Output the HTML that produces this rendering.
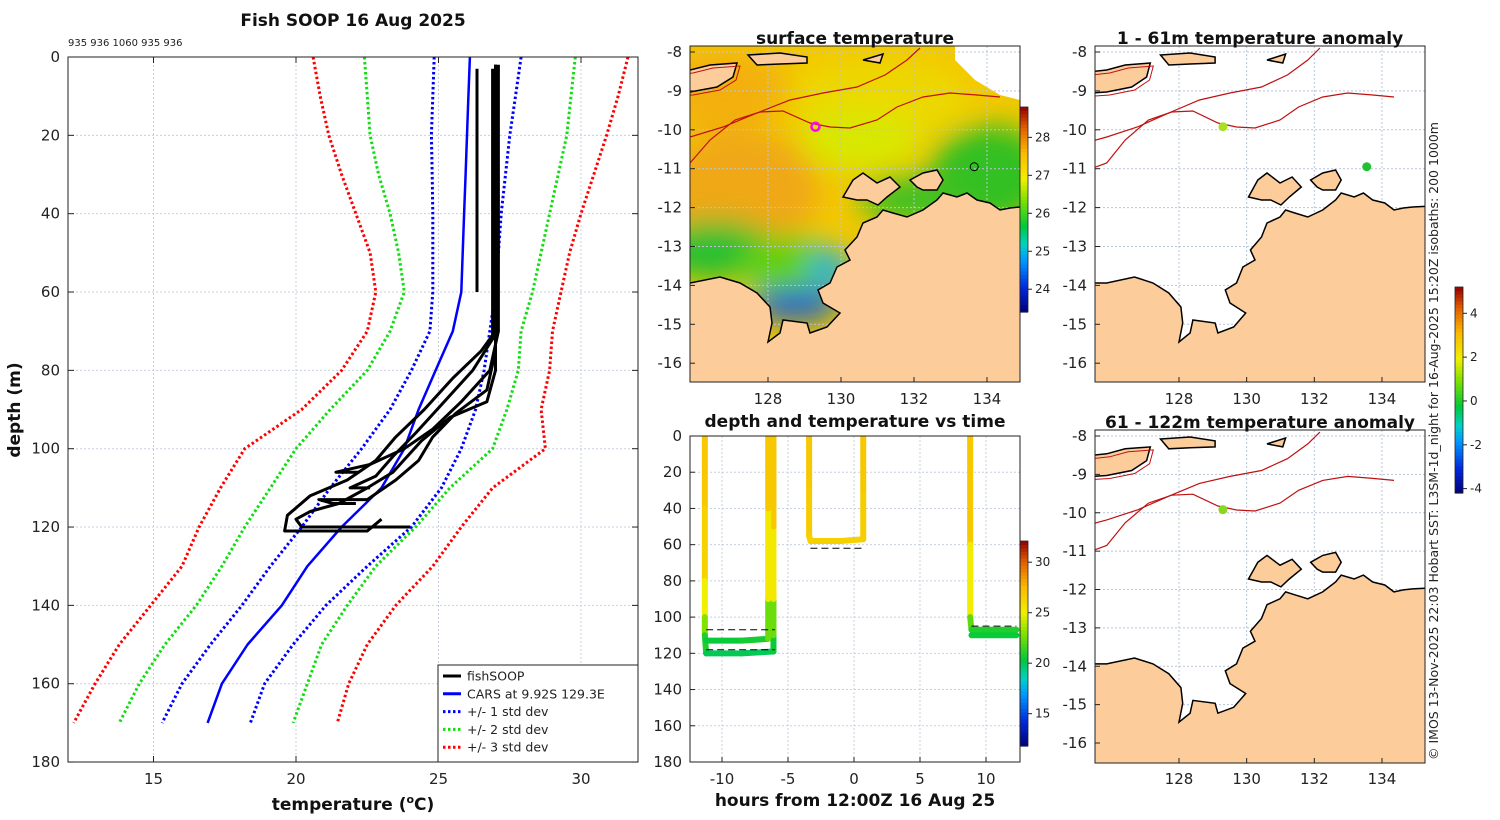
<!DOCTYPE html>
<html><head><meta charset="utf-8"><style>
html,body{margin:0;padding:0;background:#fff;width:1500px;height:820px;overflow:hidden}
svg{display:block;overflow:hidden;width:1500px;height:820px;font-family:"DejaVu Sans","Liberation Sans",sans-serif}
.tk{font-size:15px;fill:#222}
.tt{font-size:17px;font-weight:bold;fill:#111}
</style></head><body>
<svg id="fig" width="1500" height="820" viewBox="0 0 1500 820" xmlns="http://www.w3.org/2000/svg">
<defs>
<filter id="blur" x="-50%" y="-50%" width="200%" height="200%"><feGaussianBlur stdDeviation="14"/></filter>
<clipPath id="cpA"><rect x="68" y="57" width="570" height="705"/></clipPath>
<clipPath id="cpM"><rect x="690" y="46" width="330" height="336"/></clipPath>
<clipPath id="cpR1"><rect x="1095" y="46" width="330" height="336"/></clipPath>
<clipPath id="cpR2"><rect x="1095" y="430" width="330" height="333"/></clipPath>
<clipPath id="cpT"><rect x="690" y="436" width="330" height="326"/></clipPath>
</defs>
</svg>
<script>
// ---------- profile chart data ----------
const depthLevels=[0,10,20,30,40,50,60,70,80,90,100,110,120,130,140,150,160,170];
const carsMean=[26.1,26.05,26.0,25.95,25.9,25.85,25.8,25.5,24.9,24.3,23.8,23.0,21.6,20.4,19.5,18.3,17.4,16.9];
const lo1=[24.85,24.8,24.75,24.78,24.8,24.8,24.8,24.7,24.05,23.3,22.3,21.2,20.2,19.1,18.1,17.0,16.0,15.3];
const hi1=[27.9,27.7,27.5,27.35,27.2,27.1,27.0,26.8,26.6,26.3,25.8,25.1,24.05,22.5,21.05,19.9,18.9,18.4];
const lo2=[22.4,22.5,22.6,22.9,23.3,23.6,23.8,23.3,22.5,21.2,20.0,19.1,18.2,17.4,16.5,15.4,14.5,13.8];
const hi2=[29.8,29.65,29.5,29.2,28.9,28.6,28.3,27.9,27.8,27.4,26.9,25.4,24.2,22.8,21.8,20.9,20.4,19.9];
const lo3=[20.6,20.85,21.15,21.6,22.1,22.6,22.8,22.5,21.6,20.2,18.2,17.35,16.6,16.0,14.9,13.8,12.95,12.2];
const hi3=[31.65,31.3,30.9,30.45,30.0,29.6,29.3,29.0,28.9,28.6,28.75,26.9,25.8,24.8,23.5,22.5,21.85,21.45];
const profA_T=[26.35,26.35,26.35], profA_D=[3,30,60];
const profB_T=[27.0,27.0,26.5,25.5,24.5,23.5,22.8,21.8,20.5,19.7,19.6,22.5,23.0], profB_D=[2,70,75,82,90,97,103,108,112,117,121,121,118];
const profC_T=[27.1,27.1,26.8,25.8,24.8,23.8,22.6,21.4,22.2], profC_D=[2,70,80,88,95,100,104,106,106];
const profD_T=[26.9,26.9,26.2,25.2,24.2,23.4,22.8,21.9,22.6], profD_D=[3,72,80,88,96,102,107,110,110];
const profE_T=[27.0,27.0,26.7,25.6,24.8,24.3,23.5,22.5,20.8,21.3,22.1], profE_D=[2,75,85,91,97,103,108,113,113,114,114];
const profF_T=[27.0,27.0,26.7,25.4,24.4,23.4,22.5,21.5,20.5,20.0,20.2,21.0,24.0], profF_D=[2,80,88,92,98,106,110,114,116,118,120,120,120];
const xTicksA=[15,20,25,30], yTicksA=[0,20,40,60,80,100,120,140,160,180];
// ---------- time chart data ----------
const diveA_t=[-11.3,-11.3,-11.3,-11.3,-11.3,-11.2,-8.5,-6.1,-6.1,-6.1,-6.1,-6.1];
const diveA_d=[0,40,80,100,110,120,120,119,110,90,50,0];
const diveA_T=[27,26.9,26,24,22,20,20,20,21,24,26.8,27];
const diveB_t=[-11.2,-8.5,-6.5,-6.5,-6.5,-6.5];
const diveB_d=[113,113,112,90,40,0];
const diveB_T=[20.5,20.5,21,24,26.8,27];
const diveC_t=[-3.4,-3.4,-3.4,-3.3,-1,0.7,0.7,0.7];
const diveC_d=[0,30,55,58,58,57,30,0];
const diveC_T=[27,26.9,26.6,26.5,26.5,26.5,26.8,27];
const diveD_t=[8.8,8.8,8.8,8.9,10.5,12.3];
const diveD_d=[0,60,100,107,107,107];
const diveD_T=[27,26.8,23.5,21,21,21];
const diveE_t=[8.9,12.3], diveE_d=[110,110], diveE_T=[20.5,20.5];
const bottomLines=[[-11.2,-6.0,107],[-11.2,-6.0,118],[-3.3,0.7,62],[8.9,12.3,105]];
const xTicksT=[-10,-5,0,5,10], yTicksT=[0,20,40,60,80,100,120,140,160,180];

const NS='http://www.w3.org/2000/svg';
const svg=document.getElementById('fig');
function mk(tag,attrs,name,inter,parent){
  const e=document.createElementNS(NS,tag);
  for(const k in attrs) e.setAttribute(k,attrs[k]);
  
  
  (parent||svg).appendChild(e); return e;
}
function txt(x,y,s,cls,name,anchor,parent,extra){
  const t=mk('text',Object.assign({x:x,y:y,class:cls,'text-anchor':anchor||'middle'},extra||{}),name,false,parent);
  t.textContent=s; return t;
}
const stops=[[0,[0,0,120]],[0.12,[0,40,220]],[0.25,[0,150,255]],[0.33,[0,210,200]],[0.42,[0,200,60]],[0.55,[130,225,0]],[0.65,[240,240,0]],[0.78,[250,185,0]],[0.9,[225,95,0]],[1,[150,0,0]]];
function cmap(v){v=Math.max(0,Math.min(1,v));for(let i=1;i<stops.length;i++){if(v<=stops[i][0]){const a=stops[i-1],b=stops[i];const f=(v-a[0])/(b[0]-a[0]);const c=a[1].map((q,j)=>Math.round(q+(b[1][j]-q)*f));return `rgb(${c})`;}}return 'rgb(150,0,0)';}

// ================= PROFILE CHART =================
const xA=t=>68+(t-12)*28.5, yA=d=>57+d*3.917;
const gA=mk('g',{},'profile-chart',false);
mk('rect',{x:68,y:57,width:570,height:705,fill:'#fff'},'profile-plot-area',false,gA);
xTicksA.forEach(v=>mk('line',{x1:xA(v),x2:xA(v),y1:57,y2:762,stroke:'#c8cfe0','stroke-dasharray':'2,2','stroke-width':1},'x-gridline',false,gA));
yTicksA.forEach(v=>mk('line',{x1:68,x2:638,y1:yA(v),y2:yA(v),stroke:'#c8cfe0','stroke-dasharray':'2,2','stroke-width':1},'y-gridline',false,gA));
const gAc=mk('g',{'clip-path':'url(#cpA)'},'profile-series',false,gA);
function line(T,D,col,w,dash,name){
  const p=T.map((t,i)=>xA(t).toFixed(1)+','+yA(D[i]).toFixed(1)).join(' ');
  const a={points:p,fill:'none',stroke:col,'stroke-width':w,'stroke-linejoin':'round'};
  if(dash) a['stroke-dasharray']=dash;
  mk('polyline',a,name,false,gAc);
}
line(lo3,depthLevels,'#f00',3,'2.5,2.5','minus-3-std-line');
line(hi3,depthLevels,'#f00',3,'2.5,2.5','plus-3-std-line');
line(lo2,depthLevels,'#1d1',3,'2.5,2.5','minus-2-std-line');
line(hi2,depthLevels,'#1d1',3,'2.5,2.5','plus-2-std-line');
line(lo1,depthLevels,'#00f',3,'2.5,2.5','minus-1-std-line');
line(hi1,depthLevels,'#00f',3,'2.5,2.5','plus-1-std-line');
line(carsMean,depthLevels,'#00f',2.5,null,'cars-mean-line');
[[profA_T,profA_D],[profB_T,profB_D],[profC_T,profC_D],[profD_T,profD_D],[profE_T,profE_D],[profF_T,profF_D]].forEach(p=>line(p[0],p[1],'#000',3,null,'fishsoop-profile'));
mk('rect',{x:68,y:57,width:570,height:705,fill:'none',stroke:'#222','stroke-width':1},'profile-axes-box',false,gA);
xTicksA.forEach(v=>{mk('line',{x1:xA(v),x2:xA(v),y1:762,y2:756,stroke:'#222'},'x-tick',false,gA);mk('line',{x1:xA(v),x2:xA(v),y1:57,y2:63,stroke:'#222'},'x-tick',false,gA);txt(xA(v),784,String(v),'tk','x-tick-label','middle',gA);});
yTicksA.forEach(v=>{mk('line',{x1:68,x2:74,y1:yA(v),y2:yA(v),stroke:'#222'},'y-tick',false,gA);mk('line',{x1:632,x2:638,y1:yA(v),y2:yA(v),stroke:'#222'},'y-tick',false,gA);txt(60,yA(v)+5,String(v),'tk','y-tick-label','end',gA);});
txt(353,26,'Fish SOOP 16 Aug 2025','tt','profile-title','middle',gA);
txt(68,46,'935 936 1060 935 936','tk','profile-ids','start',gA,{style:'font-size:10px'});
const xl=txt(353,810,'temperature (','tt','x-axis-title','middle',gA);
xl.innerHTML='temperature (<tspan dy="-7" font-size="11">o</tspan><tspan dy="7">C)</tspan>';
txt(20,410,'depth (m)','tt','y-axis-title','middle',gA,{transform:'rotate(-90 20 410)'});
// legend
const gL=mk('g',{},'legend',false,gA);
mk('rect',{x:438,y:665,width:200,height:97,fill:'#fff',stroke:'#222','stroke-width':1},'legend-box',false,gL);
[['fishSOOP','#000',null],['CARS at 9.92S 129.3E','#00f',null],['+/- 1 std dev','#00f','2.5,2.5'],['+/- 2 std dev','#1d1','2.5,2.5'],['+/- 3 std dev','#f00','2.5,2.5']].forEach((e,i)=>{
  const y=676+i*17.8;
  const a={x1:443,x2:461,y1:y,y2:y,stroke:e[1],'stroke-width':3};if(e[2])a['stroke-dasharray']=e[2];
  mk('line',a,'legend-swatch',false,gL);
  txt(467,y+4.5,e[0],'tk','legend-entry','start',gL,{style:'font-size:12.5px'});
});

// ================= MAPS =================
const coastMain=[[640,283],[690,283],[720,277],[740,283],[757,293],[770,307],[772,323],[768,342],[780,333],[783,320],[807,323],[810,333],[827,327],[840,313],[823,303],[818,290],[830,283],[837,267],[850,260],[845,250],[857,237],[863,223],[877,217],[883,210],[893,213],[907,217],[923,210],[937,200],[943,193],[957,197],[967,193],[977,200],[990,203],[1000,210],[1010,208],[1020,207],[1060,205],[1060,390],[640,390]];
const coastMelville=[[843,197],[853,180],[863,173],[877,183],[890,177],[900,187],[887,197],[878,205],[867,200],[857,200]];
const coastCobourg=[[910,180],[923,173],[937,170],[943,180],[937,190],[923,190],[917,187]];
const coastTimor=[[640,75],[690,70],[710,65],[737,63],[733,77],[717,87],[690,92],[640,95]];
const coastIs1=[[748,55],[780,53],[807,57],[807,63],[780,64],[757,65]];
const coastIs2=[[863,60],[883,54],[880,63]];
const iso200=[[640,150],[690,137],[723,127],[757,113],[790,100],[823,93],[857,87],[885,75],[907,60],[920,48]];
const iso1000=[[640,180],[690,163],[710,140],[735,120],[760,112],[783,111],[810,123],[830,127],[850,128],[877,120],[897,107],[923,97],[950,93],[977,95],[1000,97]];
const ll=p=>[128+(p[0]-768)/36.5,-8-(p[1]-52)/38.9];
function frame(x0,x1,lonA,lonB,y0,y1,yM8,pxPerLat){return {x0,x1,y0,y1,px:lon=>x0+(lon-lonA)/(lonB-lonA)*(x1-x0),py:lat=>yM8+(-8-lat)*pxPerLat};}
const FM=frame(690,1020,125.863,134.904,46,382,52,38.9);
const FR1=frame(1095,1425,125.517,135.272,46,382,52,38.9);
const FR2=frame(1095,1425,125.517,135.272,430,763,436,38.375);
function pts(arr,F){return arr.map(p=>{const q=ll(p);return F.px(q[0]).toFixed(1)+','+F.py(q[1]).toFixed(1);}).join(' ');}
function drawMap(F,clip,name,sst,lonT,title){
  const g=mk('g',{},name,false);
  const gc=mk('g',{'clip-path':`url(#${clip})`},name+'-content',false,g);
  if(sst){
    mk('rect',{x:690,y:46,width:330,height:336,fill:'#f3c800'},'sst-field',false,gc);
    const gb=mk('g',{filter:'url(#blur)'},'sst-gradient',false,gc);
    mk('ellipse',{cx:740,cy:190,rx:80,ry:60,fill:'#f0a818'},'sst-warm-patch',false,gb);
    mk('ellipse',{cx:720,cy:90,rx:70,ry:40,fill:'#f3b010'},'sst-warm-patch',false,gb);
    mk('ellipse',{cx:880,cy:100,rx:90,ry:40,fill:'#ecd800'},'sst-yellow-patch',false,gb);
    mk('ellipse',{cx:860,cy:140,rx:60,ry:30,fill:'#d8e800'},'sst-yellow-patch',false,gb);
    mk('ellipse',{cx:990,cy:175,rx:60,ry:50,fill:'#30c020'},'sst-green-patch',false,gb);
    mk('ellipse',{cx:920,cy:200,rx:60,ry:25,fill:'#40c020'},'sst-green-patch',false,gb);
    mk('ellipse',{cx:715,cy:250,rx:60,ry:30,fill:'#28c030'},'sst-green-patch',false,gb);
    mk('ellipse',{cx:790,cy:265,rx:50,ry:30,fill:'#60d010'},'sst-green-patch',false,gb);
    mk('ellipse',{cx:795,cy:305,rx:45,ry:15,fill:'#0050d8'},'sst-cold-patch',false,gb);
    mk('ellipse',{cx:830,cy:270,rx:20,ry:20,fill:'#10b0e0'},'sst-cold-patch',false,gb);
    mk('polygon',{points:'955,46 1020,46 1020,100 1000,95 975,80 955,60',fill:'#fff'},'sst-missing-data',false,gc);
  } else {
    mk('rect',{x:F.x0,y:F.y0,width:F.x1-F.x0,height:F.y1-F.y0,fill:'#fff'},'sea',false,gc);
  }
  lonT.forEach(l=>mk('line',{x1:F.px(l),x2:F.px(l),y1:F.y0,y2:F.y1,stroke:'#b8c4dc','stroke-dasharray':'2,2'},'lon-gridline',false,gc));
  for(let la=-8;la>=-16;la--) mk('line',{x1:F.x0,x2:F.x1,y1:F.py(la),y2:F.py(la),stroke:'#b8c4dc','stroke-dasharray':'2,2'},'lat-gridline',false,gc);
  [[iso200,'isobath-200m'],[iso1000,'isobath-1000m']].forEach(s=>mk('polyline',{points:pts(s[0],F),fill:'none',stroke:'#c01010','stroke-width':1.2},s[1],false,gc));
  [[coastMain,'mainland'],[coastMelville,'melville-island'],[coastCobourg,'cobourg-peninsula'],[coastTimor,'timor'],[coastIs1,'island'],[coastIs2,'island']].forEach(s=>{
    mk('polygon',{points:pts(s[0],F),fill:'#fccd9b',stroke:'#000','stroke-width':1.5},s[1],false,gc);
  });
  mk('polygon',{points:pts(coastTimor,F),fill:'none',stroke:'#c01010','stroke-width':1,transform:'translate(3,3)'},'timor-isobath',false,gc);
  mk('rect',{x:F.x0,y:F.y0,width:F.x1-F.x0,height:F.y1-F.y0,fill:'none',stroke:'#222'},name+'-box',false,g);
  for(let la=-8;la>=-16;la--){const y=F.py(la);mk('line',{x1:F.x0,x2:F.x0+5,y1:y,y2:y,stroke:'#222'},'lat-tick',false,g);txt(F.x0-8,y+5,String(la),'tk','lat-tick-label','end',g);}
  if(lonT.length) lonT.forEach(l=>{mk('line',{x1:F.px(l),x2:F.px(l),y1:F.y1,y2:F.y1-5,stroke:'#222'},'lon-tick',false,g);});
  txt((F.x0+F.x1)/2,F.y0-2,title,'tt','map-title','middle',g);
  return g;
}
const lonTicks=[128,130,132,134];
const gM=drawMap(FM,'cpM','sst-map',true,lonTicks,'surface temperature');
lonTicks.forEach(l=>txt(FM.px(l),404,String(l),'tk','lon-tick-label','middle',gM));
mk('circle',{cx:FM.px(129.3),cy:FM.py(-9.92),r:4,fill:'none',stroke:'#f0f','stroke-width':2.5},'ship-position-marker',false,gM);
mk('circle',{cx:FM.px(133.65),cy:FM.py(-10.95),r:4,fill:'none',stroke:'#000','stroke-width':1},'station-marker',false,gM);
const gR1=drawMap(FR1,'cpR1','anomaly-map-1-61m',false,lonTicks,'1 - 61m temperature anomaly');
lonTicks.forEach(l=>txt(FR1.px(l),404,String(l),'tk','lon-tick-label','middle',gR1));
mk('circle',{cx:FR1.px(129.3),cy:FR1.py(-9.92),r:4.5,fill:'#a8e020'},'anomaly-marker',false,gR1);
mk('circle',{cx:FR1.px(133.55),cy:FR1.py(-10.95),r:4.5,fill:'#20c030'},'anomaly-marker',false,gR1);
const gR2=drawMap(FR2,'cpR2','anomaly-map-61-122m',false,lonTicks,'61 - 122m temperature anomaly');
lonTicks.forEach(l=>txt(FR2.px(l),784,String(l),'tk','lon-tick-label','middle',gR2));
mk('circle',{cx:FR2.px(129.3),cy:FR2.py(-9.92),r:4.5,fill:'#88d820'},'anomaly-marker',false,gR2);

// colorbars
function colorbar(x,y0,y1,vmin,vmax,ticks,name){
  const g=mk('g',{},name,false);
  const n=60,h=(y1-y0)/n;
  for(let i=0;i<n;i++) mk('rect',{x:x,y:y1-(i+1)*h,width:8,height:h+0.6,fill:cmap((i+0.5)/n)},'colorbar-cell',false,g);
  mk('rect',{x:x,y:y0,width:8,height:y1-y0,fill:'none',stroke:'#222','stroke-width':0.8},'colorbar-box',false,g);
  ticks.forEach(v=>{const y=y1-(v-vmin)/(vmax-vmin)*(y1-y0);mk('line',{x1:x+8,x2:x+12,y1:y,y2:y,stroke:'#222'},'colorbar-tick',false,g);txt(x+15,y+4,String(v),'tk','colorbar-tick-label','start',g,{style:'font-size:12px'});});
}
colorbar(1020,107,312,23.4,28.8,[24,25,26,27,28],'sst-colorbar');
colorbar(1020,541,746,11.8,32.1,[15,20,25,30],'time-colorbar');
colorbar(1455,287,493,-4.2,5.2,[-4,-2,0,2,4],'anomaly-colorbar');

// ================= TIME CHART =================
const xT=t=>854+t*13.2, yT=d=>436+d*1.811;
const gT=mk('g',{},'depth-time-chart',false);
xTicksT.forEach(v=>mk('line',{x1:xT(v),x2:xT(v),y1:436,y2:762,stroke:'#c8cfe0','stroke-dasharray':'2,2'},'x-gridline',false,gT));
yTicksT.forEach(v=>mk('line',{x1:690,x2:1020,y1:yT(v),y2:yT(v),stroke:'#c8cfe0','stroke-dasharray':'2,2'},'y-gridline',false,gT));
const gTc=mk('g',{'clip-path':'url(#cpT)'},'dive-series',false,gT);
[[diveA_t,diveA_d,diveA_T],[diveB_t,diveB_d,diveB_T],[diveC_t,diveC_d,diveC_T],[diveD_t,diveD_d,diveD_T],[diveE_t,diveE_d,diveE_T]].forEach(dv=>{
  for(let i=1;i<dv[0].length;i++){
    mk('line',{x1:xT(dv[0][i-1]),y1:yT(dv[1][i-1]),x2:xT(dv[0][i]),y2:yT(dv[1][i]),stroke:cmap(((dv[2][i-1]+dv[2][i])/2-11.8)/20.3),'stroke-width':6,'stroke-linecap':'round'},'dive-segment',false,gTc);
  }
});
bottomLines.forEach(b=>mk('line',{x1:xT(b[0]),x2:xT(b[1]),y1:yT(b[2]),y2:yT(b[2]),stroke:'#000','stroke-dasharray':'7,4','stroke-width':1},'bottom-depth-line',false,gTc));
mk('rect',{x:690,y:436,width:330,height:326,fill:'none',stroke:'#222'},'time-axes-box',false,gT);
xTicksT.forEach(v=>{mk('line',{x1:xT(v),x2:xT(v),y1:762,y2:757,stroke:'#222'},'x-tick',false,gT);txt(xT(v),784,String(v),'tk','x-tick-label','middle',gT);});
yTicksT.forEach(v=>{mk('line',{x1:690,x2:695,y1:yT(v),y2:yT(v),stroke:'#222'},'y-tick',false,gT);txt(682,yT(v)+5,String(v),'tk','y-tick-label','end',gT);});
txt(855,427,'depth and temperature vs time','tt','time-chart-title','middle',gT);
txt(855,806,'hours from 12:00Z 16 Aug 25','tt','time-x-axis-title','middle',gT);

txt(1438,760,'© IMOS 13-Nov-2025 22:03 Hobart SST: L3SM-1d_night for 16-Aug-2025 15:20Z isobaths: 200  1000m','tk','credit-text','start',null,{transform:'rotate(-90 1438 760)',style:'font-size:12.5px'});
</script>
</body></html>
